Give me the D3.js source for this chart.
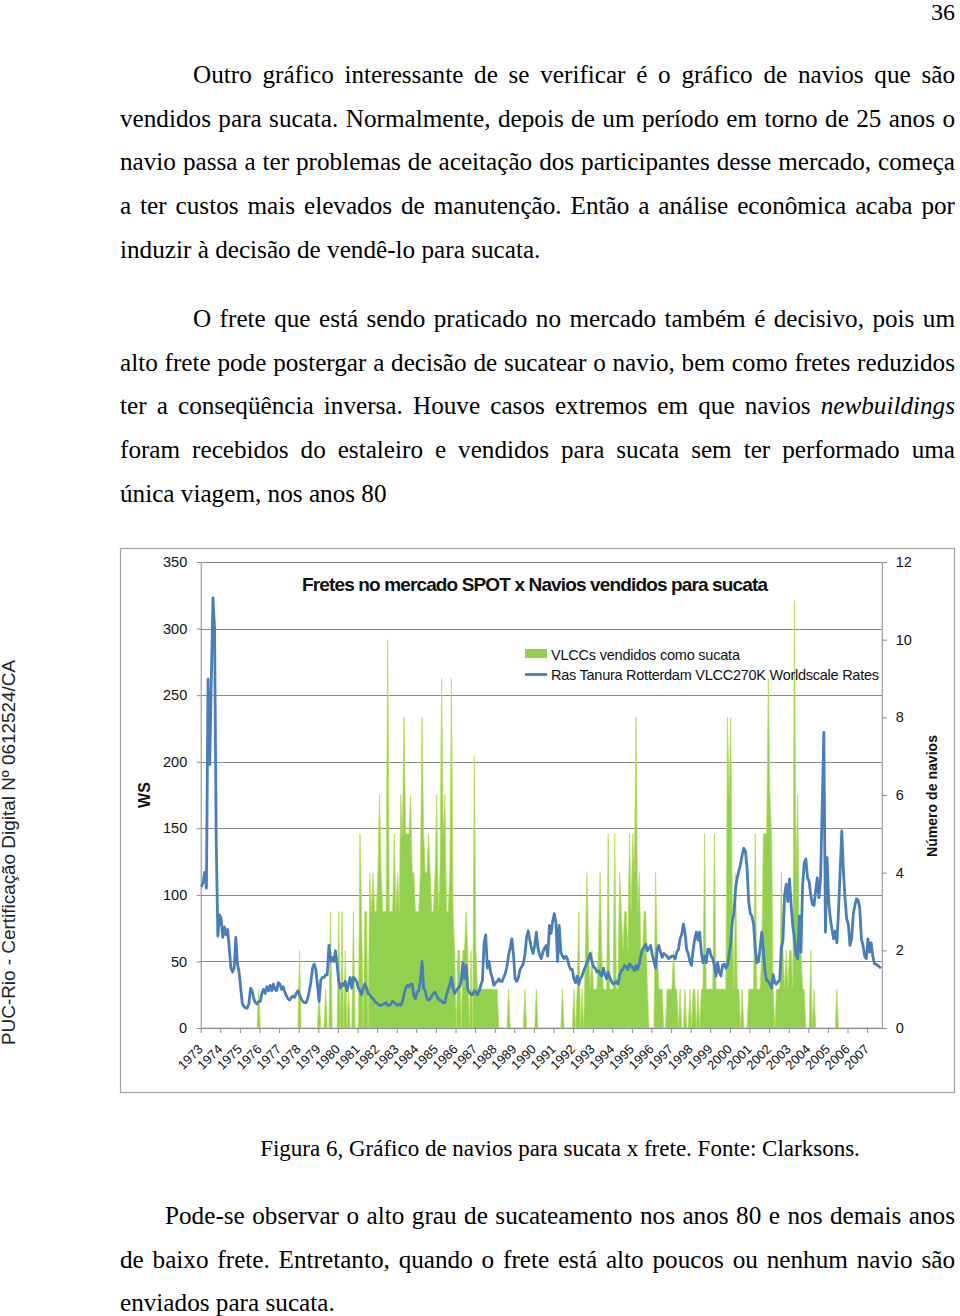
<!DOCTYPE html>
<html><head><meta charset="utf-8">
<script src="https://cdn.jsdelivr.net/npm/d3@7"></script>
<style>html,body{margin:0;padding:0;background:#fff;} svg{display:block;}</style>
</head><body>
<svg id="page" width="960" height="1316"></svg>
<script>
// ---------- DATA ----------
const yearLabels = d3.range(1973, 2008).map(String);

// Ras Tanura – Rotterdam VLCC 270K Worldscale rates, monthly Jan 1973 – Sep 2007
const wsRates = [
 106,110,117,105,262,198,262,323,300,140,69,85,   // 1973
 82,68,76,70,74,60,45,42,45,68,48,42,             // 1974
 30,18,16,15,15,18,30,28,22,19,18,20,             // 1975
 20,26,29,26,31,28,32,28,33,29,28,34,             // 1976
 33,29,31,27,24,22,21,23,24,23,26,28,             // 1977
 25,22,20,19,19,22,28,35,45,48,44,32,             // 1978
 20,36,38,38,40,40,62,50,53,50,58,48,             // 1979
 35,30,33,32,35,28,33,38,30,38,37,35,             // 1980
 30,28,25,30,33,30,26,25,23,22,20,19,             // 1981
 18,17,17,18,18,19,17,17,18,20,19,18,             // 1982
 17,18,17,20,25,30,32,31,33,33,24,22,             // 1983
 27,28,35,50,30,28,22,21,22,24,26,27,             // 1984
 24,22,21,20,19,19,25,29,33,38,30,26,             // 1985
 28,30,31,35,49,37,47,29,27,25,25,28,             // 1986
 27,25,28,32,36,64,70,45,50,42,38,32,             // 1987
 34,35,37,35,35,38,41,46,55,60,67,55,             // 1988
 37,35,38,44,46,48,55,68,73,66,60,56,             // 1989
 62,72,60,55,52,57,60,62,54,77,71,80,             // 1990
 86,79,50,77,57,54,52,54,52,47,44,44,             // 1991
 37,34,39,33,37,39,43,46,49,52,56,50,             // 1992
 46,45,42,43,41,39,45,40,37,42,38,35,             // 1993
 33,34,35,33,40,43,44,47,46,44,48,47,             // 1994
 45,43,47,44,48,55,59,61,63,58,60,62,             // 1995
 55,50,45,59,62,57,53,56,55,54,52,53,             // 1996
 54,54,52,57,59,67,70,78,72,59,56,50,             // 1997
 47,59,67,72,66,72,57,49,54,49,59,59,             // 1998
 54,52,47,39,49,42,39,47,48,45,47,54,             // 1999
 64,80,87,105,113,118,123,130,135,133,120,95,     // 2000
 86,84,78,60,49,50,60,72,58,42,36,35,             // 2001
 33,30,40,34,33,35,36,60,66,100,108,95,           // 2002
 112,92,77,67,55,52,84,57,107,124,127,113,        // 2003
 110,100,93,92,103,113,98,112,165,222,72,128,     // 2004
 95,82,74,67,73,64,88,118,148,118,97,82,          // 2005
 78,62,67,85,92,97,96,90,67,62,54,52,             // 2006
 67,57,64,54,48,48,47,46,45                       // 2007
];

// VLCCs sold for scrap, monthly
const scrapCounts = [
 0,0,0,0,0,0,0,0,0,0,0,0,  // 1973
 0,0,0,0,0,0,0,0,0,0,0,0,  // 1974
 0,0,0,0,0,0,0,0,0,0,0,1,  // 1975
 0,0,0,0,0,0,0,0,0,0,0,0,  // 1976
 0,0,0,0,0,0,0,0,0,0,0,0,  // 1977
 2,0,0,0,0,0,0,0,0,0,0,0,  // 1978
 1,0,0,0,1,0,0,3,0,0,0,0,  // 1979
 3,0,3,0,2,0,1,0,0,3,0,0,  // 1980
 0,5,3,0,3,3,0,4,3,4,3,3,  // 1981
 4,6,4,3,3,3,10,3,3,3,5,3, // 1982
 4,3,6,5,8,5,5,5,6,4,4,3,  // 1983
 3,3,4,8,5,4,4,5,4,3,3,4,  // 1984
 6,3,4,9,5,6,3,3,4,9,3,2,  // 1985
 0,2,2,0,2,2,3,2,0,2,0,7,  // 1986
 2,1,1,1,1,1,1,1,1,1,1,1,  // 1987
 1,1,0,0,0,0,0,0,1,0,0,0,  // 1988
 0,0,0,0,0,0,1,0,0,0,0,0,  // 1989
 0,1,0,0,0,0,0,0,0,0,0,0,  // 1990
 0,0,0,0,0,1,0,0,0,0,0,0,  // 1991
 1,0,1,3,0,1,0,2,4,2,1,2,  // 1992
 1,1,1,2,4,2,1,1,1,5,1,1,  // 1993
 1,5,1,1,4,3,2,3,3,2,5,3,  // 1994
 5,4,8,3,4,2,2,3,3,1,0,0,  // 1995
 0,0,4,2,1,1,1,0,0,1,1,1,  // 1996
 1,2,1,1,0,1,0,0,1,0,0,1,  // 1997
 0,1,1,0,1,0,1,1,5,1,1,1,  // 1998
 1,1,5,1,1,1,1,1,1,1,8,6,  // 1999
 8,3,1,4,1,1,0,1,0,0,0,1,  // 2000
 1,1,1,5,1,1,1,2,5,5,5,9,  // 2001
 6,5,1,0,1,1,1,4,2,1,2,1,  // 2002
 2,2,1,11,4,6,2,2,1,1,0,0, // 2003
 0,2,0,1,0,0,0,0,0,0,0,0,  // 2004
 0,0,0,0,0,1,0,0,0,0,0,0,  // 2005
 0,0,0,0,0,0,0,0,0,0,0,0,  // 2006
 0,0,0,0,0,0,0,0,0         // 2007
];

const leftTicks = [0,50,100,150,200,250,300,350];
const rightTicks = [0,2,4,6,8,10,12];
const seriesNames = ["VLCCs vendidos como sucata", "Ras Tanura Rotterdam VLCC270K Worldscale Rates"];
const chartTitle = "Fretes no mercado SPOT x Navios vendidos para sucata";

const bodyLines = [
 {y:83,    x0:193, j:true,  t:"Outro gráfico interessante de se verificar é o gráfico de navios que são"},
 {y:126.7, x0:120, j:true,  t:"vendidos para sucata. Normalmente, depois de um período em torno de 25 anos o"},
 {y:170.4, x0:120, j:true,  t:"navio passa a ter problemas de aceitação dos participantes desse mercado, começa"},
 {y:214.1, x0:120, j:true,  t:"a ter custos mais elevados de manutenção. Então a análise econômica acaba por"},
 {y:257.8, x0:120, j:false, t:"induzir à decisão de vendê-lo para sucata."},
 {y:327,   x0:193, j:true,  t:"O frete que está sendo praticado no mercado também é decisivo, pois um"},
 {y:370.7, x0:120, j:true,  t:"alto frete pode postergar a decisão de sucatear o navio, bem como fretes reduzidos"},
 {y:414.4, x0:120, j:true,  t:"ter a conseqüência inversa. Houve casos extremos em que navios *newbuildings"},
 {y:458.1, x0:120, j:true,  t:"foram recebidos do estaleiro e vendidos para sucata sem ter performado uma"},
 {y:501.8, x0:120, j:false, t:"única viagem, nos anos 80"},
 {y:1224,  x0:165, j:true,  t:"Pode-se observar o alto grau de sucateamento nos anos 80 e nos demais anos"},
 {y:1267.7,x0:120, j:true,  t:"de baixo frete. Entretanto, quando o frete está alto poucos ou nenhum navio são"},
 {y:1311.4,x0:120, j:false, t:"enviados para sucata."}
];
const caption = "Figura 6, Gráfico de navios para sucata x frete. Fonte: Clarksons.";
const sideNote = "PUC-Rio - Certificação Digital Nº 0612524/CA";
const pageNumber = "36";

// ---------- DRAW ----------
const svg = d3.select('#page');
const serif = "'Liberation Serif','Times New Roman',serif";
const sans = "'Liberation Sans',Arial,sans-serif";
const bodySize = 25.2;

svg.append('text').attr('x',955).attr('y',20).attr('text-anchor','end')
  .style('font-family',serif).style('font-size','24px').text(pageNumber);

const body = svg.append('g').style('font-family',serif).style('font-size',bodySize + 'px').attr('fill','#000');
bodyLines.forEach(line => {
  const words = line.t.split(' ');
  const nodes = words.map(w => {
    const it = w.startsWith('*');
    return body.append('text').attr('y', line.y)
      .style('font-style', it ? 'italic' : null)
      .text(it ? w.slice(1) : w);
  });
  const widths = nodes.map(n => n.node().getComputedTextLength());
  const gap = line.j ? (955 - line.x0 - d3.sum(widths)) / (words.length - 1) : bodySize * 0.25;
  let xx = line.x0;
  nodes.forEach((n,k) => { n.attr('x', xx); xx += widths[k] + gap; });
});

svg.append('text').attr('x',560).attr('y',1156).attr('text-anchor','middle')
  .style('font-family',serif).style('font-size','23px').text(caption);

svg.append('text').attr('transform','translate(14.5,1045) rotate(-90)')
  .attr('textLength',385).attr('lengthAdjust','spacingAndGlyphs')
  .style('font-family',sans).style('font-size','18px').attr('fill','#222').text(sideNote);

// chart
const L = 200.7, R = 881.8, T = 562, B = 1028;
const N = wsRates.length;
const x = d3.scaleLinear().domain([0, N]).range([L, R]);
const yL = d3.scaleLinear().domain([0, 350]).range([B, T]);
const yR = d3.scaleLinear().domain([0, 12]).range([B, T]);
const gridCol = '#8a8a8a';

svg.append('rect').attr('x',120.5).attr('y',548.5).attr('width',834).attr('height',544)
  .attr('fill','#fff').attr('stroke','#a3a3a3').attr('stroke-width',1.2);

const chart = svg.append('g').style('font-family',sans);

chart.append('g').selectAll('line').data(leftTicks.filter(d => d > 0)).join('line')
  .attr('x1', L).attr('x2', R)
  .attr('y1', d => Math.round(yL(d)) + 0.5).attr('y2', d => Math.round(yL(d)) + 0.5)
  .attr('stroke', gridCol).attr('stroke-width', 1);

const area = d3.area().x((d,i) => x(i + 0.5)).y0(yR(0)).y1(d => yR(d));
chart.append('path').datum(scrapCounts).attr('d', area)
  .attr('fill', '#92d050').attr('stroke', '#b4dc4e').attr('stroke-width', 0.7).attr('stroke-linejoin','miter');

const line = d3.line().x((d,i) => x(i + 0.5)).y(d => yL(d));
chart.append('path').datum(wsRates).attr('d', line)
  .attr('fill','none').attr('stroke','#4a7ebb').attr('stroke-width',2.8).attr('stroke-linejoin','round');

function styleAxis(g){
  g.selectAll('.domain').attr('stroke', gridCol);
  g.selectAll('.tick line').attr('stroke', gridCol);
  g.selectAll('text').style('font-family', sans).style('font-size','14.5px').attr('fill','#111');
}
chart.append('g').attr('transform',`translate(${L},0)`)
  .call(d3.axisLeft(yL).tickValues(leftTicks).tickSize(4).tickSizeOuter(0).tickPadding(9.5))
  .call(styleAxis);
chart.append('g').attr('transform',`translate(${R},0)`)
  .call(d3.axisRight(yR).tickValues(rightTicks).tickSize(5).tickSizeOuter(0).tickPadding(9))
  .call(styleAxis);
chart.append('g').attr('transform',`translate(0,${B})`)
  .call(d3.axisBottom(x).tickValues(d3.range(0, N, 12)).tickSize(5).tickSizeOuter(0).tickFormat(''))
  .call(styleAxis);

chart.append('g').selectAll('text').data(yearLabels).join('text')
  .attr('transform', (d,i) => `translate(${x(i*12) + 3},${B + 22}) rotate(-45)`)
  .attr('text-anchor','end').style('font-size','13px').attr('fill','#111').text(d => d);

chart.append('text').attr('x',302).attr('y',591)
  .attr('textLength',466).attr('lengthAdjust','spacing')
  .style('font-weight','bold').style('font-size','19px').attr('fill','#111').text(chartTitle);

chart.append('text').attr('transform','translate(150,795) rotate(-90)').attr('text-anchor','middle')
  .style('font-weight','bold').style('font-size','16px').attr('fill','#111').text('WS');
chart.append('text').attr('transform','translate(937,796) rotate(-90)').attr('text-anchor','middle')
  .attr('textLength',122).attr('lengthAdjust','spacingAndGlyphs')
  .style('font-weight','bold').style('font-size','14px').attr('fill','#111').text('Número de navios');

// legend
const leg = chart.append('g');
leg.append('rect').attr('x',525).attr('y',649).attr('width',22).attr('height',9).attr('fill','#92d050');
leg.append('line').attr('x1',525).attr('x2',547).attr('y1',674.5).attr('y2',674.5)
  .attr('stroke','#4a7ebb').attr('stroke-width',2.8);
leg.append('text').attr('x',551).attr('y',659.5).attr('textLength',189).attr('lengthAdjust','spacing')
  .style('font-size','14.5px').attr('fill','#111').text(seriesNames[0]);
leg.append('text').attr('x',551).attr('y',679.5).attr('textLength',328).attr('lengthAdjust','spacing')
  .style('font-size','14.5px').attr('fill','#111').text(seriesNames[1]);
</script>
</body></html>
